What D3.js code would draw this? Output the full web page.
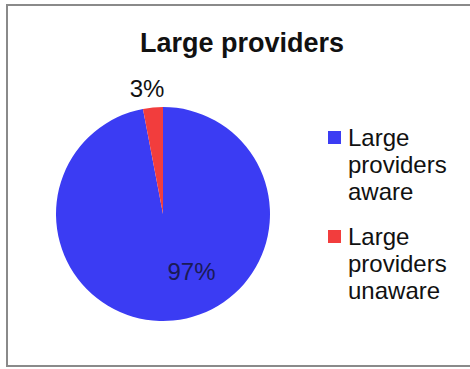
<!DOCTYPE html>
<html>
<head>
<meta charset="utf-8">
<script src="https://cdn.jsdelivr.net/npm/d3@7"></script>
<style>
  html, body { margin: 0; padding: 0; background: #fff; }
  svg { display: block; }
</style>
</head>
<body>
<svg id="chart" width="470" height="369"></svg>
<script>
// Awareness among large providers
const categories = ["Large providers aware", "Large providers unaware"];
const values = [97, 3];
const valueLabels = ["97%", "3%"];
const legendLines = [["Large", "providers", "aware"], ["Large", "providers", "unaware"]];
const colors = ["#3b3cf3", "#f23d3d"];
const title = "Large providers";

const svg = d3.select("#chart");
const font = "Liberation Sans, Arial, Helvetica, sans-serif";

// frame
svg.append("rect")
  .attr("x", 7).attr("y", 5)
  .attr("width", 480).attr("height", 361)
  .attr("fill", "#fff")
  .attr("stroke", "#8a8a8a")
  .attr("stroke-width", 2);

svg.append("text")
  .attr("x", 242).attr("y", 52)
  .attr("text-anchor", "middle")
  .attr("font-family", font)
  .attr("font-weight", "bold")
  .attr("font-size", 27)
  .attr("fill", "#111")
  .text(title);

const cx = 163, cy = 214, r = 107;
const pie = d3.pie().sort(null).value(d => d)(values);
const arc = d3.arc().innerRadius(0).outerRadius(r);

const g = svg.append("g").attr("transform", `translate(${cx},${cy})`);
g.selectAll("path")
  .data(pie)
  .join("path")
  .attr("d", arc)
  .attr("fill", (d, i) => colors[i]);

// value labels: large slice inside (placed a little ahead of its mid-angle),
// small slice just outside the rim
function labelPos(d, i) {
  const a = i === 0
    ? d.startAngle + (d.endAngle - d.startAngle) * 0.44
    : (d.startAngle + d.endAngle) / 2 - 0.033;
  const rr = i === 0 ? r * 0.6 : r * 1.18;
  return [Math.sin(a) * rr, -Math.cos(a) * rr];
}
g.selectAll("text.val")
  .data(pie)
  .join("text")
  .attr("class", "val")
  .attr("transform", (d, i) => {
    const c = labelPos(d, i);
    return `translate(${c[0]},${c[1]})`;
  })
  .attr("dy", "0.35em")
  .attr("text-anchor", "middle")
  .attr("font-family", font)
  .attr("font-size", 24)
  .attr("fill", (d, i) => i === 0 ? "#1a1a55" : "#111")
  .text((d, i) => valueLabels[i]);

// legend
const legend = svg.append("g").attr("transform", "translate(328,131)");
const item = legend.selectAll("g")
  .data(categories)
  .join("g")
  .attr("transform", (d, i) => `translate(0,${i * 99})`);
item.append("rect")
  .attr("width", 13).attr("height", 13)
  .attr("fill", (d, i) => colors[i]);
item.append("text")
  .attr("x", 20).attr("y", 15)
  .attr("font-family", font)
  .attr("font-size", 24)
  .attr("fill", "#111")
  .selectAll("tspan")
  .data((d, i) => legendLines[i])
  .join("tspan")
  .attr("x", 20)
  .attr("dy", (d, j) => j === 0 ? 0 : 27)
  .text(d => d);
</script>
</body>
</html>
